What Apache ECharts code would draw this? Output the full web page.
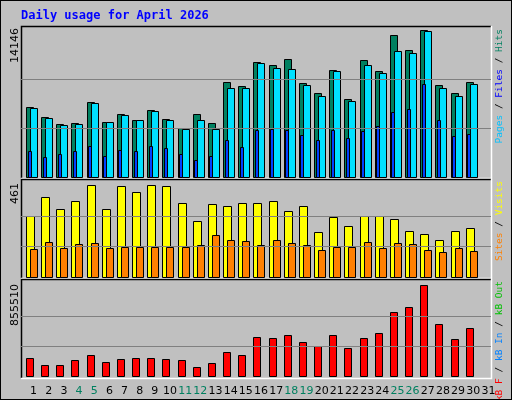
<!DOCTYPE html>
<html><head><meta charset="utf-8">
<script src="https://cdn.jsdelivr.net/npm/echarts@6/dist/echarts.min.js"></script>
<style>html,body{margin:0;padding:0;background:#c0c0c0}
#c{width:510px;height:398px;border:1px solid #000;background:#c0c0c0}</style></head>
<body><div id="c"></div>
<script>
const days = ['1','2','3','4','5','6','7','8','9','10','11','12','13','14','15','16','17','18','19','20','21','22','23','24','25','26','27','28','29','30','31'];
const weekend = ['4','5','11','12','18','19','25','26'];
const hits = [6752,5792,5120,5216,7232,5312,6080,5504,6464,5600,4736,6080,5216,9152,8768,11072,10784,11360,9056,8096,10304,7520,11264,10208,13664,12224,14146,8864,8096,9152];
const files = [6656,5696,5024,5120,7136,5312,5984,5504,6368,5504,4640,5504,4640,8576,8576,10976,10496,10400,8864,7808,10208,7328,10784,10016,12128,11936,14048,8576,7808,8960];
const pages = [2528,1952,2240,2528,3008,2048,2624,2528,3008,2816,2240,1664,2048,3584,2912,4544,4640,4544,4064,3584,4544,3776,4448,4928,6272,6560,8960,5504,3968,4160];
const visits = [306,401,341,381,461,341,456,426,461,456,371,281,366,356,371,371,381,331,356,225,301,256,306,306,291,230,215,185,230,245];
const sites = [140,175,145,165,170,145,150,150,150,150,150,160,210,185,180,160,185,170,160,135,150,150,175,145,170,165,135,125,145,130];
const kbytes = [171710,106150,106150,152980,199810,134250,162340,171710,171710,162340,152980,87420,124880,227910,199810,368400,359030,387130,321570,284100,387130,265370,359030,405860,602550,649380,855510,490150,349660,452690];

const maxHits = Math.max(...hits), maxVisits = Math.max(...visits), maxKB = Math.max(...kbytes);
const chart = echarts.init(document.getElementById('c'));

function barSeries(data, gi, off, w, color, z) {
  return {
    type: 'custom', xAxisIndex: gi, yAxisIndex: gi, z: z,
    data: data.map((v, i) => [i, v]),
    renderItem: (params, api) => {
      const slot = api.size([1, 0])[0];
      const top = api.coord([api.value(0), api.value(1)]);
      const base = api.coord([api.value(0), 0]);
      const x0 = top[0] - slot / 2 + off;
      return { type: 'rect', shape: { x: Math.round(x0) + 0.5, y: Math.round(top[1]) + 0.5, width: w, height: Math.round(base[1] - top[1]) },
        style: { fill: color, stroke: '#000', lineWidth: 1 } };
    }
  };
}
function gridLines(gi, max) {
  return { type: 'line', xAxisIndex: gi, yAxisIndex: gi, data: [], silent: true,
    markLine: { symbol: 'none', silent: true, label: { show: false },
      lineStyle: { color: '#808080', type: 'solid', width: 1 },
      data: [{ yAxis: max / 3 }, { yAxis: 2 * max / 3 }] } };
}
const grids = [
  { left: 20, width: 470, top: 29.3, height: 147.4 },
  { left: 20, width: 470, top: 184.3, height: 92 },
  { left: 20, width: 470, top: 284.3, height: 91.4 }
];
const xAxes = grids.map((g, i) => ({
  type: 'category', gridIndex: i, data: days, boundaryGap: true,
  axisLine: { show: false }, axisTick: { show: false },
  axisLabel: i < 2 ? { show: false } : {
    interval: 0, margin: 9, fontFamily: 'DejaVu Sans', fontSize: 11,
    formatter: v => weekend.includes(v) ? '{w|' + v + '}' : '{n|' + v + '}',
    rich: { w: { color: '#008060', padding: [0, 0, 0, 10], fontSize: 11, fontFamily: 'DejaVu Sans' },
            n: { color: '#000', padding: [0, 0, 0, 10], fontSize: 11, fontFamily: 'DejaVu Sans' } }
  }
}));
const maxes = [maxHits, maxVisits, maxKB];
const yAxes = maxes.map((m, i) => ({ type: 'value', gridIndex: i, min: 0, max: m, show: false, splitLine: { show: false } }));

const FS = 9.5;
function st(c) { return { fill: c, fontFamily: 'DejaVu Sans Mono', fontSize: FS }; }
function vtext(x, y, rich, str, fs) {
  return { type: 'text', x: x, y: y, rotation: Math.PI / 2,
    style: { text: str, rich: rich, align: 'right', verticalAlign: 'middle', fontFamily: rich ? 'DejaVu Sans Mono' : 'DejaVu Sans', fontSize: fs || FS } };
}
const frames = [[25, 177], [178, 277], [278, 377]];
const graphic = [];
frames.forEach(f => {
  graphic.push({ type: 'polyline', z: -1, shape: { points: [[20.5, f[1]], [20.5, f[0] + 0.5], [490, f[0] + 0.5]] }, style: { stroke: '#000', lineWidth: 1.5, fill: null } });
  graphic.push({ type: 'polyline', z: -1, shape: { points: [[490.5, f[0]], [490.5, f[1] + 0.5], [20, f[1] + 0.5]] }, style: { stroke: '#fff', lineWidth: 1.5, fill: null } });
});
graphic.push({ type: 'text', x: 20, y: 9, style: { text: 'Daily usage for April 2026', fill: '#0000ff', font: 'bold 12px "DejaVu Sans Mono"' } });
graphic.push(vtext(14, 27, null, '' + maxHits, 11));
graphic.push(vtext(14, 182, null, '' + maxVisits, 11));
graphic.push(vtext(14, 283, null, '' + maxKB, 11));
graphic.push(vtext(499, 28, { p: st('#00c0ff'), f: st('#0000ff'), h: st('#008060'), s: st('#000') }, '{p|Pages}{s| / }{f|Files}{s| / }{h|Hits}'));
graphic.push(vtext(499, 180, { v: st('#ffff00'), t: st('#ff8000'), s: st('#000') }, '{t|Sites}{s| / }{v|Visits}'));
graphic.push(vtext(499, 280, { r: st('#ff0000'), b: st('#0080ff'), g: st('#00c000'), s: st('#000') }, '{r|kB F}{s| / }{b|kB In}{s| / }{g|kB Out}'));

chart.setOption({
  animation: false,
  backgroundColor: '#c0c0c0',
  textStyle: { fontFamily: 'DejaVu Sans Mono' },
  grid: grids, xAxis: xAxes, yAxis: yAxes, graphic: graphic,
  series: [
    gridLines(0, maxHits), gridLines(1, maxVisits), gridLines(2, maxKB),
    barSeries(hits, 0, 5, 7, '#008060', 2),
    barSeries(files, 0, 9, 7, '#00e0ff', 3),
    barSeries(pages, 0, 6.5, 3, '#0040ff', 4),
    barSeries(visits, 1, 5, 8, '#ffff00', 2),
    barSeries(sites, 1, 9, 7, '#ff8000', 3),
    barSeries(kbytes, 2, 5, 7, '#ff0000', 2)
  ]
});
</script></body></html>
